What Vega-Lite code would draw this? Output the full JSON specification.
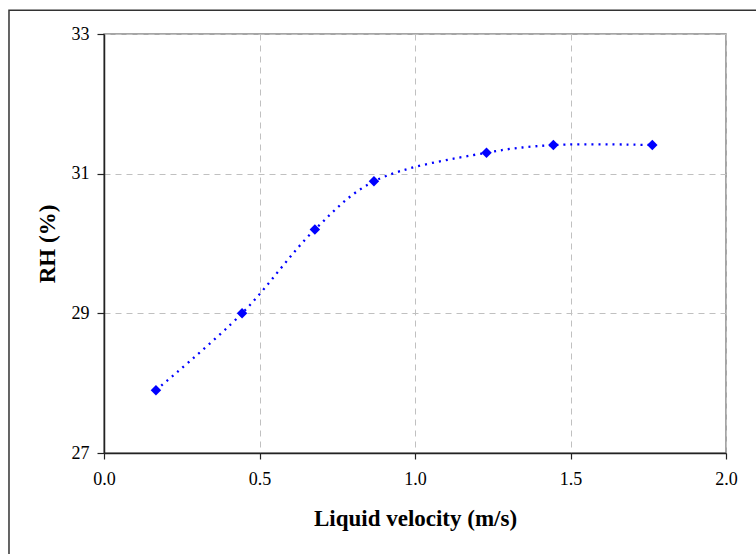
{
  "$schema": "https://vega.github.io/schema/vega-lite/v6.json",
  "width": 622,
  "height": 419,
  "autosize": {"type": "none"},
  "padding": {"left": 104, "top": 34, "right": 30, "bottom": 101},
  "background": "white",
  "config": {
    "view": {"stroke": "#888888", "strokeWidth": 1.5},
    "font": "Liberation Serif"
  },
  "datasets": {
    "pts": [
      {"v": 0.167, "rh": 27.9},
      {"v": 0.444, "rh": 29.0},
      {"v": 0.678, "rh": 30.2},
      {"v": 0.868, "rh": 30.89},
      {"v": 1.23, "rh": 31.3},
      {"v": 1.445, "rh": 31.41},
      {"v": 1.763, "rh": 31.41}
    ],
    "frame": [{"x1": -0.3055, "x2": 2.6, "y1": 33.34, "y2": 24.5}]
  },
  "encoding": {
    "x": {
      "field": "v", "type": "quantitative",
      "scale": {"domain": [0, 2], "nice": false, "zero": false},
      "axis": {
        "title": "Liquid velocity (m/s)",
        "values": [0, 0.5, 1, 1.5, 2],
        "format": ".1f",
        "labelFlush": false,
        "labelFont": "Liberation Serif", "labelFontSize": 18, "labelColor": "#000",
        "labelPadding": 11,
        "titleFont": "Liberation Serif", "titleFontSize": 23, "titleFontWeight": "bold", "titleColor": "#000",
        "titlePadding": 19,
        "tickSize": 6, "tickColor": "#222", "tickWidth": 1.2,
        "domainColor": "#222", "domainWidth": 1.5,
        "grid": true, "gridColor": "#c0c0c0", "gridDash": [6, 5], "gridWidth": 1
      }
    },
    "y": {
      "field": "rh", "type": "quantitative",
      "scale": {"domain": [27, 33], "nice": false, "zero": false},
      "axis": {
        "title": "RH (%)",
        "values": [27, 29, 31, 33],
        "format": "d",
        "labelFlush": false,
        "labelFont": "Liberation Serif", "labelFontSize": 18, "labelColor": "#000",
        "labelPadding": 8,
        "titleFont": "Liberation Serif", "titleFontSize": 23, "titleFontWeight": "bold", "titleColor": "#000",
        "titlePadding": 12,
        "tickSize": 7, "tickColor": "#222", "tickWidth": 1.2,
        "domainColor": "#222", "domainWidth": 1.5,
        "grid": true, "gridColor": "#c0c0c0", "gridDash": [6, 5], "gridWidth": 1
      }
    }
  },
  "layer": [
    {
      "data": {"name": "frame"},
      "mark": {"type": "rect", "fill": null, "fillOpacity": 0, "stroke": "#333333", "strokeWidth": 1.5, "clip": false},
      "encoding": {
        "x": {"field": "x1", "type": "quantitative"},
        "x2": {"field": "x2"},
        "y": {"field": "y1", "type": "quantitative"},
        "y2": {"field": "y2"}
      }
    },
    {
      "data": {"name": "pts"},
      "mark": {"type": "line", "color": "#0000ff", "strokeWidth": 2.3, "strokeDash": [2, 5], "interpolate": "catmull-rom"}
    },
    {
      "data": {"name": "pts"},
      "mark": {"type": "point", "shape": "diamond", "filled": true, "color": "#0000ff", "opacity": 1, "size": 110}
    }
  ]
}
